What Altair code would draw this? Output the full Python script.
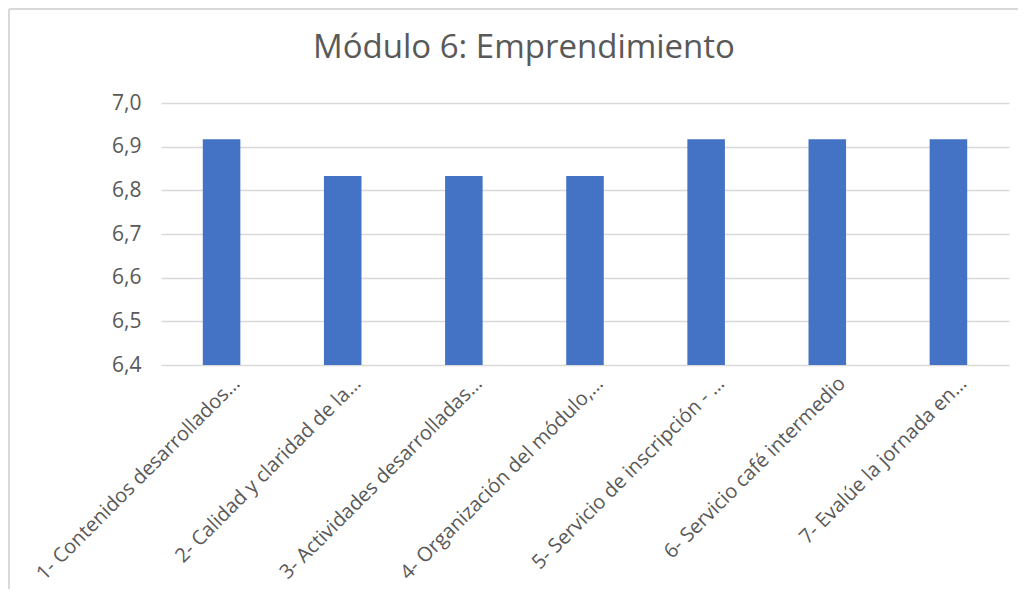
import altair as alt
import pandas as pd

categories = [
    "1- Contenidos desarrollados…",
    "2- Calidad y claridad de la…",
    "3- Actividades desarrolladas…",
    "4- Organización del módulo,…",
    "5- Servicio de inscripción - …",
    "6- Servicio café intermedio",
    "7- Evalúe la jornada en…",
]
values = [6.917, 6.833, 6.833, 6.833, 6.917, 6.917, 6.917]
y_ticks = [6.4, 6.5, 6.6, 6.7, 6.8, 6.9, 7.0]
title_text = ["Módulo 6: Emprendimiento"]

df = pd.DataFrame({"cat": categories, "val": values})
FONT = "Open Sans"
GREY = "#595959"

bars = alt.Chart(df).mark_bar(color="#4472C4", clip=True).encode(
    x=alt.X(
        "cat:N",
        sort=categories,
        title=None,
        scale=alt.Scale(paddingInner=0.69, paddingOuter=0.345),
        axis=alt.Axis(
            labelAngle=-45,
            labelFontSize=20,
            labelFont=FONT,
            labelColor=GREY,
            labelLimit=400,
            labelPadding=8,
            labelOffset=8,
            domain=False,
            ticks=False,
            grid=False,
        ),
    ),
    y=alt.Y(
        "val:Q",
        title=None,
        scale=alt.Scale(domain=[6.4, 7.0], zero=False, nice=False),
        axis=alt.Axis(
            values=y_ticks,
            labelExpr="replace(format(datum.value, '.1f'), '.', ',')",
            labelFontSize=21,
            labelFont=FONT,
            labelColor=GREY,
            labelPadding=20,
            domain=False,
            ticks=False,
            gridColor="#d9d9d9",
            gridWidth=1.5,
        ),
    ),
)

title = alt.Chart(pd.DataFrame({"t": title_text})).mark_text(
    font=FONT, fontSize=33, color=GREY, align="center", baseline="alphabetic"
).encode(text="t:N", x=alt.value(363), y=alt.value(-45))

border_top = alt.Chart(pd.DataFrame({"t": title_text})).mark_rule(
    color="#d9d9d9", strokeWidth=2
).encode(x=alt.value(-152), x2=alt.value(857), y=alt.value(-94))
border_left = alt.Chart(pd.DataFrame({"t": title_text})).mark_rule(
    color="#d9d9d9", strokeWidth=2
).encode(x=alt.value(-152), y=alt.value(-94), y2=alt.value(486))

chart = (
    alt.layer(bars, title, border_top, border_left, view=alt.ViewBackground(stroke="transparent", strokeWidth=0))
    .properties(
        width=848,
        height=262,
        autosize=alt.AutoSizeParams(type="none"),
        padding={"left": 153, "top": 95, "right": 9, "bottom": 224},
    )
    .configure_view(strokeWidth=0, stroke="transparent")
    .configure(background="white")
)

chart.save("out.html", embed_options={"renderer": "svg", "actions": False})
